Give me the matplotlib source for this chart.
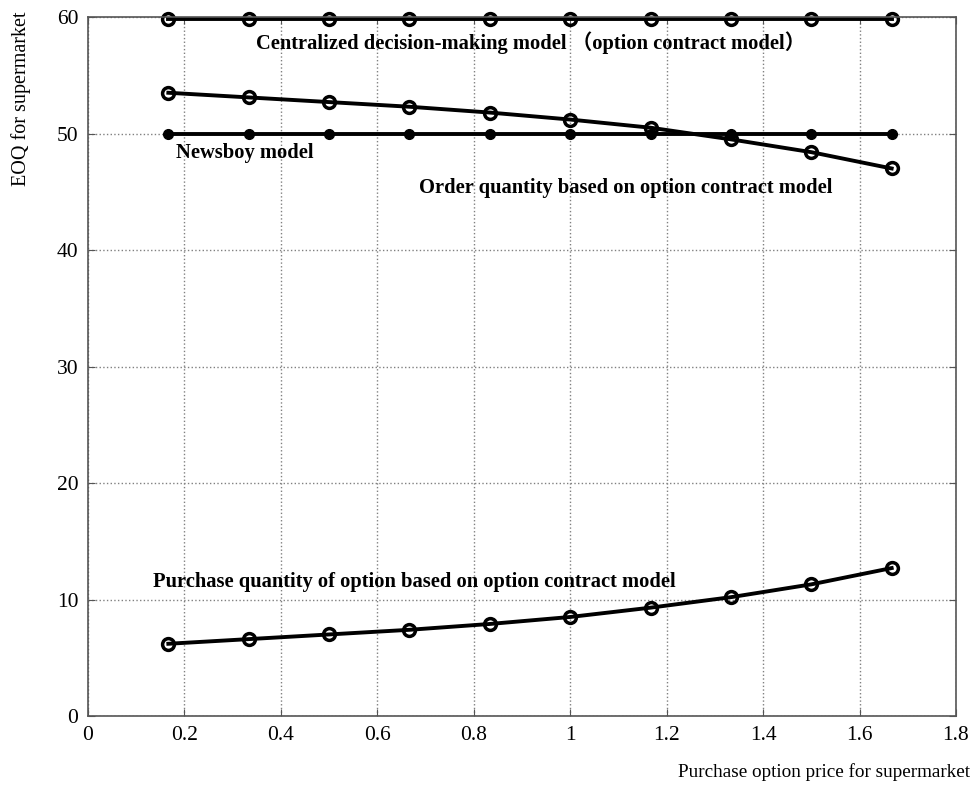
import matplotlib.pyplot as plt
import numpy as np

# === Data ===
price = [1/6, 2/6, 3/6, 4/6, 5/6, 1.0, 7/6, 8/6, 9/6, 10/6]
centralized = [59.8] * 10
newsboy = [50.0] * 10
order_qty = [53.5, 53.1, 52.7, 52.3, 51.8, 51.2, 50.5, 49.5, 48.4, 47.0]
purchase_qty = [6.2, 6.6, 7.0, 7.4, 7.9, 8.5, 9.3, 10.2, 11.3, 12.7]

xticks = [0, 0.2, 0.4, 0.6, 0.8, 1, 1.2, 1.4, 1.6, 1.8]
xticklabels = ['0', '0.2', '0.4', '0.6', '0.8', '1', '1.2', '1.4', '1.6', '1.8']
yticks = [0, 10, 20, 30, 40, 50, 60]

plt.rcParams['font.family'] = ['Liberation Serif', 'Noto Sans CJK SC', 'DejaVu Serif']

fig = plt.figure(figsize=(9.73, 7.85), dpi=100)
ax = fig.add_axes([0.0904, 0.0879, 0.8921, 0.8904])

line_kw = dict(color='black', linewidth=2.8, marker='o', markersize=8.5,
               markerfacecolor='none', markeredgewidth=2.5, clip_on=False)
ax.plot(price, centralized, **line_kw)
ax.plot(price, order_qty, **line_kw)
ax.plot(price, purchase_qty, **line_kw)
ax.plot(price, newsboy, color='black', linewidth=2.8, marker='.', markersize=14,
        clip_on=False)

ax.set_xlim(0, 1.8)
ax.set_ylim(0, 60)
ax.set_xticks(xticks)
ax.set_xticklabels(xticklabels)
ax.set_yticks(yticks)
ax.tick_params(direction='in', labelsize=15.5, top=True, right=True, length=5,
               color='#555555', pad=7)
for s in ax.spines.values():
    s.set_color('#555555')
    s.set_linewidth(1.2)
ax.grid(True, linestyle=':', color='#808080', linewidth=1)

# annotations
tkw = dict(fontsize=14.8, fontweight='bold', color='black')
ax.text(0.348, 57.8, 'Centralized decision-making model （option contract model）',
        va='center', ha='left', **tkw)
ax.text(0.182, 48.3, 'Newsboy model', va='center', ha='left', **tkw)
ax.text(0.687, 45.3, 'Order quantity based on option contract model',
        va='center', ha='left', **tkw)
ax.text(0.135, 11.5, 'Purchase quantity of option based on option contract model',
        va='center', ha='left', **tkw)

fig.text(0.997, 0.0166, 'Purchase option price for supermarket', ha='right',
         va='center', fontsize=13.8)
fig.text(0.022, 0.985, 'EOQ for supermarket', ha='center', va='top',
         rotation=90, fontsize=14.5)

fig.savefig('out.png', dpi=100)
